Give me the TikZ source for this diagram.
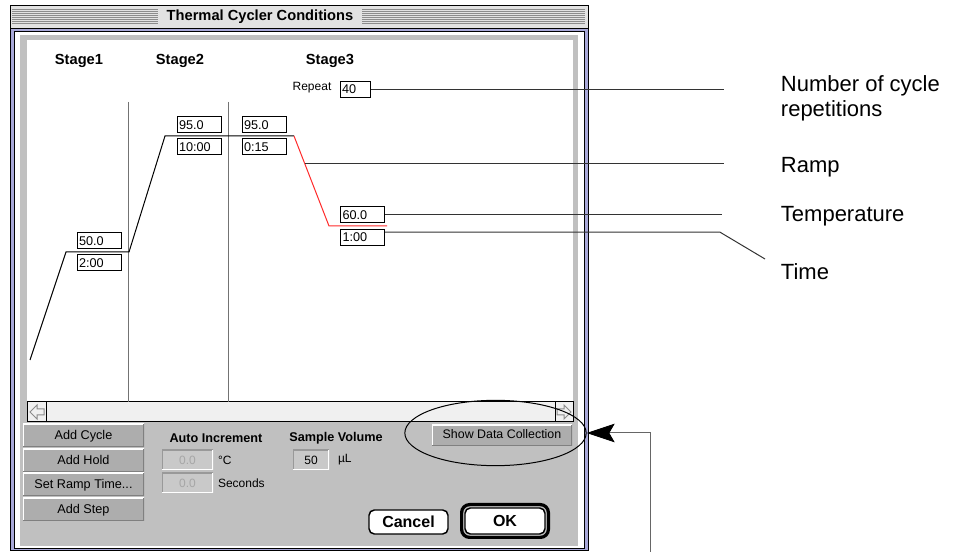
\documentclass[tikz,border=0pt]{standalone}
\usepackage{fontspec}
\setmainfont{Liberation Sans}
\usepackage{tikz}
\definecolor{framelav}{HTML}{A8A8D8}
\definecolor{panelgray}{HTML}{C0C0C0}
\definecolor{btngray}{HTML}{ADADAD}
\definecolor{fieldgray}{HTML}{C9C9C9}
\definecolor{titlegray}{HTML}{E2E2E2}
\definecolor{stripegray}{HTML}{8C8C8C}
\definecolor{rampred}{HTML}{FF2A2A}
\usetikzlibrary{arrows.meta}
\usetikzlibrary{shapes.geometric}
\usetikzlibrary{positioning}
\usetikzlibrary{fit}
\tikzset{
	titlebar/.style={fill=titlegray,minimum width=153pt,minimum height=14pt,inner sep=0pt,font=\bfseries\fontsize{11}{12}\selectfont},
	stagelbl/.style={font=\bfseries\fontsize{11}{12}\selectfont},
	divider/.style={draw=black!55},
	valbox/.style={draw=black,fill=white,text width=30pt,minimum height=12pt,inner sep=1.5pt,align=left,font=\fontsize{9.5}{10}\selectfont},
	macbtn/.style={fill=btngray,minimum width=90.75pt,minimum height=17.25pt,inner sep=0pt,text depth=1.5pt,font=\fontsize{9.5}{10}\selectfont,
		path picture={\draw[white,line width=1.5pt] (path picture bounding box.south west) |- (path picture bounding box.north east);
			\draw[black!50,line width=2.2pt] (path picture bounding box.south west) -| (path picture bounding box.north east);}},
	field/.style={fill=fieldgray,minimum width=38.25pt,minimum height=15pt,inner sep=3pt,align=right,font=\fontsize{9}{10}\selectfont,
		path picture={\draw[black!40,line width=1.5pt] (path picture bounding box.south west) |- (path picture bounding box.north east);
			\draw[white,line width=1.5pt] (path picture bounding box.south west) -| (path picture bounding box.north east);}},
	paneltxt/.style={inner sep=1pt,font=\fontsize{9}{10}\selectfont},
	boldtxt/.style={font=\bfseries\fontsize{9.5}{10}\selectfont},
	roundbtn/.style={draw=black,line width=1.1pt,fill=white,rounded corners=4pt,minimum width=59.25pt,minimum height=18pt,inner sep=0pt,font=\bfseries\fontsize{12}{13}\selectfont},
	okring/.style={draw=black,line width=2.4pt,rounded corners=6pt,inner sep=2pt},
	callout/.style={draw=black!80},
	calllbl/.style={anchor=west,align=left,font=\fontsize{16.5}{18.5}\selectfont},
	leadline/.style={draw=black!60,-{Stealth[length=21pt,width=14pt,inset=4pt,black]}},
	}

\begin{document}
\begin{tikzpicture}[x=0.75pt,y=-0.75pt,line width=0.75pt]
\useasboundingbox (0,0) rectangle (958,552);
% WINDOW
\fill[titlegray] (10,6) rectangle (588,29);
\foreach \yy in {10,12,...,24}
	\draw[stripegray] (12,\yy) -- (585,\yy);
\node[titlebar] (ttl) at (260,17) {Thermal Cycler Conditions};
\draw[fill=framelav] (10,29) rectangle (588,551);
\draw[fill=white] (14,32) rectangle (584,549);
\fill[panelgray] (20,35) rectangle (578,546);
\fill[white] (27,40) rectangle (573,402);
\draw (10,6) rectangle (588,551);
% SCROLLBAR
\draw[fill=black!6] (27,402) rectangle (573,422);
\draw (46,402) -- (46,422);
\draw (555,402) -- (555,422);
\draw[black!45] (30,412) -- (37,405) -- (37,409) -- (44,409) -- (44,415) -- (37,415) -- (37,419) -- cycle;
\draw[black!45] (571,412) -- (564,405) -- (564,409) -- (557,409) -- (557,415) -- (564,415) -- (564,419) -- cycle;
% STAGES
\node[stagelbl] (st1) at (79,61) {Stage1};
\node[stagelbl] (st2) at (180,61) {Stage2};
\node[stagelbl] (st3) at (330,61) {Stage3};
\draw[divider] (128,102) -- (128,402);
\draw[divider] (228,102) -- (228,402);
% PROFILE
\coordinate (p0) at (30,360);
\coordinate (p1) at (66,252);
\coordinate (p2) at (129,252);
\coordinate (p3) at (165,136);
\coordinate (p4) at (294,136);
\coordinate (p5) at (329,226);
\coordinate (p6) at (387,226);
\draw (p0) -- (p1) -- (p2) -- (p3) -- (p4);
\draw[rampred] (p4) -- (p5) -- (p6);
% BOXES
\node[valbox] (t50) at (99,241) {50.0};
\node[valbox] (h200) at (99,263) {2:00};
\node[valbox] (t95a) at (199,125) {95.0};
\node[valbox] (h1000) at (199,147) {10:00};
\node[valbox] (t95b) at (264,125) {95.0};
\node[valbox] (h015) at (264,147) {0:15};
\node[valbox] (t60) at (362.5,215) {60.0};
\node[valbox] (h100) at (362.5,237.5) {1:00};
\node[paneltxt] (rpt) at (312,88) {Repeat};
\node[valbox,text width=19.5pt] (rep) at (355,89.5) {40};
% PANEL
\node[macbtn] (bCycle) at (83.5,435.5) {Add Cycle};
\node[macbtn] (bHold) at (83.5,460.5) {Add Hold};
\node[macbtn] (bRamp) at (83.5,484.5) {Set Ramp Time...};
\node[macbtn] (bStep) at (83.5,509.5) {Add Step};
\node[boldtxt] (ai) at (216,438) {Auto Increment};
\node[boldtxt] (sv) at (336,438) {Sample Volume};
\node[field,text=black!35] (fDeg) at (187.5,460) {0.0};
\node[paneltxt,right=2pt of fDeg] (uDeg) {°C};
\node[field,text=black!35] (fSec) at (187.5,483) {0.0};
\node[paneltxt,right=2pt of fSec] (uSec) {Seconds};
\node[field,minimum width=27pt] (fVol) at (311,460) {50};
\node[paneltxt,right=5pt of fVol] (uVol) {µL};
\node[macbtn,minimum width=105pt,minimum height=15.75pt,font=\fontsize{9.3}{10}\selectfont] (bShow) at (502,435.5) {Show Data Collection};
\node[roundbtn] (bCancel) at (408.5,522) {Cancel};
\node[roundbtn,minimum width=60pt,minimum height=19.5pt] (bOK) at (505,521) {OK};
\node[okring,fit=(bOK)] (ring) {};
% HIGHLIGHT
\node[draw,ellipse,minimum width=136pt,minimum height=49pt,inner sep=0pt] (hl) at (495.5,433) {};
\coordinate (lead) at (650,552);
\draw[leadline] (lead) |- (hl.east);
% CALLOUTS
\coordinate (eRep) at (724,88);
\coordinate (rampPt) at (305,164);
\coordinate (eRamp) at (724,164);
\coordinate (eTemp) at (722,213);
\coordinate (eTime) at (765,259);
\draw[callout] (rep.east) -- (rep.east -| eRep);
\draw[callout] (rampPt) -- (eRamp);
\draw[callout] (t60.east) -- (t60.east -| eTemp);
\draw[callout] ([yshift=4pt]h100.east) -- ++(335,0) -- (eTime);
% LABELS
\node[calllbl] (lRep) at (776,98) {Number of cycle\\repetitions};
\node[calllbl] (lRamp) at (776,167) {Ramp};
\node[calllbl] (lTemp) at (776,216) {Temperature};
\node[calllbl] (lTime) at (776,272) {Time};
\end{tikzpicture}
\end{document}
